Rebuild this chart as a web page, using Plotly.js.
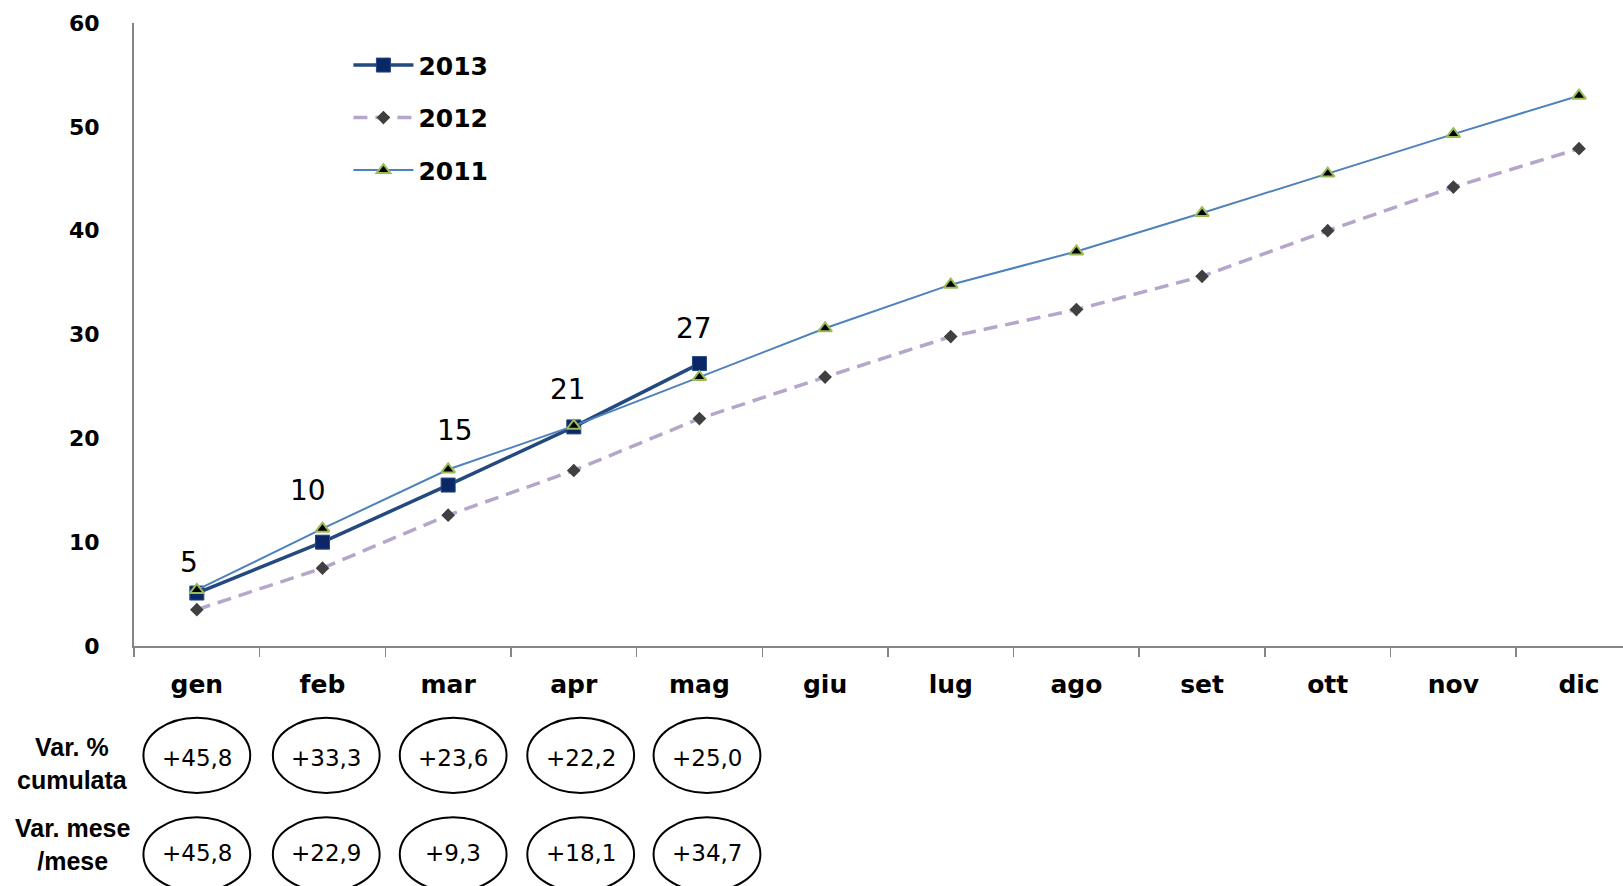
<!DOCTYPE html>
<html>
<head>
<meta charset="utf-8">
<script src="https://cdn.plot.ly/plotly-3.0.1.min.js"></script>
<style>html,body{margin:0;padding:0;background:#fff;}#chart{width:1623px;height:886px;}</style>
</head>
<body>
<div id="chart"></div>
<script>
// ---- data ----
const months = ['gen','feb','mar','apr','mag','giu','lug','ago','set','ott','nov','dic'];
const v2013 = [5.1, 10.0, 15.5, 21.1, 27.2];
const v2012 = [3.5, 7.5, 12.6, 16.9, 21.9, 25.9, 29.8, 32.4, 35.6, 40.0, 44.2, 47.9];
const v2011 = [5.4, 11.3, 17.0, 21.2, 25.9, 30.6, 34.8, 38.0, 41.7, 45.5, 49.3, 53.0];
const labels2013 = ['5', '10', '15', '21', '27'];
const varCumulata = ['+45,8', '+33,3', '+23,6', '+22,2', '+25,0'];
const varMese = ['+45,8', '+22,9', '+9,3', '+18,1', '+34,7'];
const rowLabels = ['Var. %<br>cumulata', 'Var. mese<br>/mese'];
const yTicks = [0, 10, 20, 30, 40, 50, 60];

// ---- styles ----
const labelYShift = [31, 52, 55, 37, 35];
const labelXShift = [-8, -14, 7, -6, -5];
const ellipseDrift = [0, 0.03, 0.04, 0.055, 0.06];
const rowY = [-0.180, -0.332];
const rowEllipse = [[-0.115, -0.236], [-0.275, -0.394]];
const rowLabelY = [-0.188, -0.319];

const traces = [
  {
    x: months.slice(0, v2013.length), y: v2013, name: '2013', type: 'scatter', mode: 'lines+markers',
    legendgroup: 'a',
    line: {color: '#23497F', width: 3.5},
    marker: {symbol: 'square', size: 14, color: '#0B2767', line: {color: '#23497F', width: 1}}
  },
  {
    x: months, y: v2012, name: '2012', type: 'scatter', mode: 'lines+markers',
    legendgroup: 'b',
    line: {color: '#B7A6CC', width: 3.5, dash: '14px,8px'},
    marker: {symbol: 'diamond', size: 10.5, color: '#404040'}
  },
  {
    x: months, y: v2011, name: '2011', type: 'scatter', mode: 'lines+markers',
    legendgroup: 'c',
    line: {color: '#4F81BD', width: 2},
    marker: {symbol: 'triangle-up', size: 12, color: '#000000', line: {color: '#9BBB59', width: 2}}
  }
];

const annotations = [];
const shapes = [];
labels2013.forEach((t, i) => {
  annotations.push({
    x: months[i], y: v2013[i], xref: 'x', yref: 'y', text: t, showarrow: false,
    xanchor: 'center', yanchor: 'middle',
    yshift: labelYShift[i], xshift: labelXShift[i],
    font: {family: 'DejaVu Sans, sans-serif', size: 28, color: '#000'}
  });
});
[varCumulata, varMese].forEach((row, r) => {
  row.forEach((t, i) => {
    const cx = i + ellipseDrift[i];
    annotations.push({
      x: cx, y: rowY[r], xref: 'x', yref: 'paper', text: t, showarrow: false,
      xanchor: 'center', yanchor: 'middle',
      font: {family: 'DejaVu Sans, sans-serif', size: 23, color: '#000'}
    });
    shapes.push({
      type: 'circle', xref: 'x', yref: 'paper',
      x0: cx - 0.425, x1: cx + 0.425, y0: rowEllipse[r][0], y1: rowEllipse[r][1],
      line: {color: '#000', width: 2}, fillcolor: 'rgba(0,0,0,0)'
    });
  });
  annotations.push({
    x: -0.0416, y: rowLabelY[r], xref: 'paper', yref: 'paper', text: '<b>' + rowLabels[r] + '</b>',
    showarrow: false, align: 'center', xanchor: 'center', yanchor: 'middle',
    font: {family: 'Liberation Sans, Arial, sans-serif', size: 25, color: '#000'}
  });
});

const layout = {
  width: 1623, height: 886,
  margin: {l: 134, r: 0, t: 23, b: 240},
  paper_bgcolor: '#fff', plot_bgcolor: '#fff',
  showlegend: true,
  legend: {
    x: 0.144, y: 0.969, xanchor: 'left', yanchor: 'top',
    bgcolor: 'rgba(0,0,0,0)', tracegroupgap: 17, traceorder: 'grouped',
    font: {family: 'DejaVu Sans, sans-serif', size: 25, color: '#000', weight: 'bold'},
    itemwidth: 60
  },
  xaxis: {
    type: 'category', categoryorder: 'array', categoryarray: months,
    range: [-0.5, 11.35],
    showgrid: false, zeroline: false,
    showline: true, linecolor: '#868686', linewidth: 2,
    ticks: 'outside', tickson: 'boundaries', ticklen: 9, tickcolor: '#868686', tickwidth: 1.5,
    ticklabelstandoff: 15,
    tickfont: {family: 'DejaVu Sans, sans-serif', size: 25, color: '#000', weight: 'bold'}
  },
  yaxis: {
    range: [0, 60], tickvals: yTicks, ticktext: yTicks.map(String),
    showgrid: false, zeroline: false,
    showline: true, linecolor: '#868686', linewidth: 2,
    ticks: '', ticklabelstandoff: 28,
    tickfont: {family: 'DejaVu Sans, sans-serif', size: 22, color: '#000', weight: 'bold'}
  },
  annotations: annotations,
  shapes: shapes
};

Plotly.newPlot('chart', traces, layout, {displayModeBar: false, staticPlot: true});
</script>
</body>
</html>
